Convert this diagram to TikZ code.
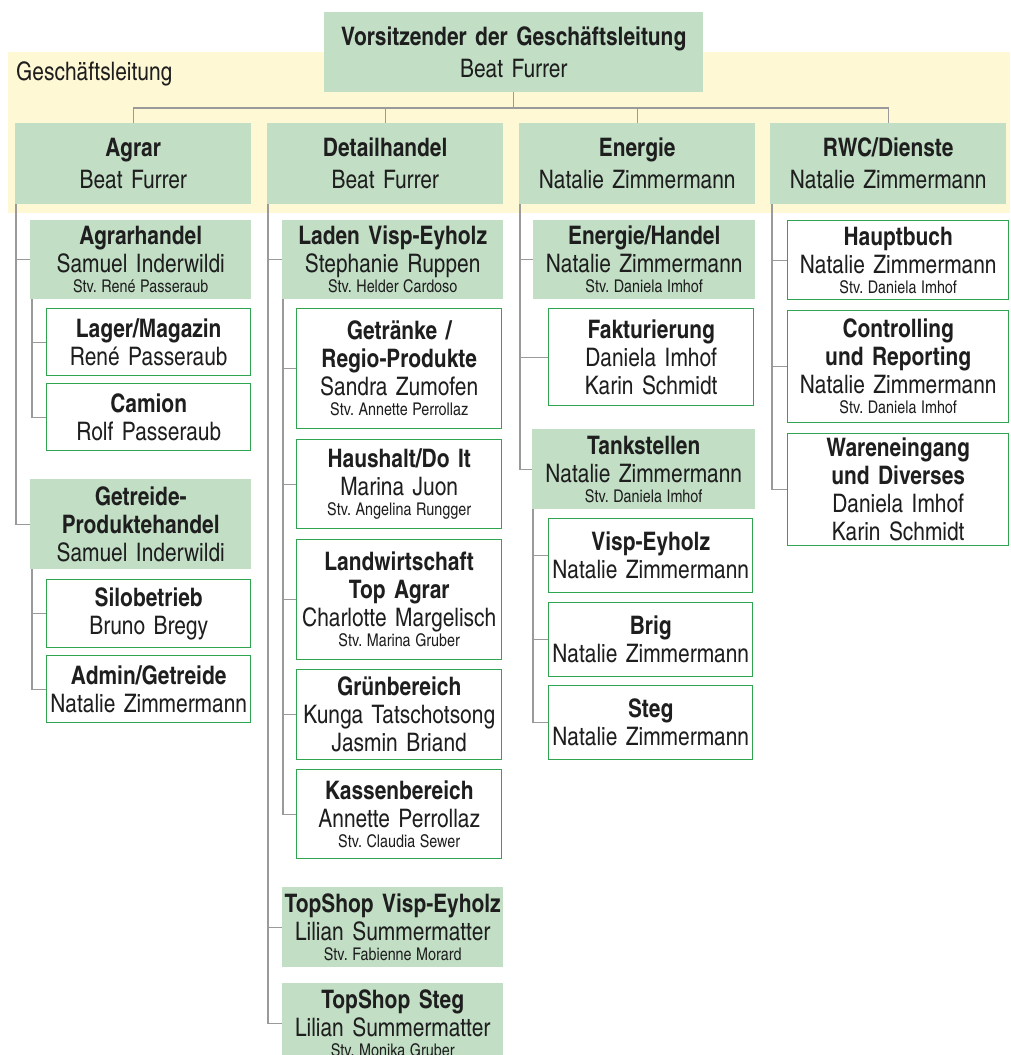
\documentclass[tikz,border=0pt]{standalone}
\usepackage{fontspec}
\setmainfont{texgyreheroscn}[Extension=.otf, UprightFont=*-regular, BoldFont=*-bold, ItalicFont=*-italic, BoldItalicFont=*-bolditalic, PunctuationSpace=0, WordSpace=0.75]
\definecolor{gfill}{HTML}{C2DFC6}
\definecolor{yband}{HTML}{FFF8D5}
\definecolor{gline}{HTML}{2FA552}
\definecolor{conn}{HTML}{9A9A9A}
\definecolor{txt}{HTML}{1E1E1E}
\newcommand\Lb[1]{{\bfseries\makebox[\linewidth]{#1}\par}}
\newcommand\Ln[1]{{\makebox[\linewidth]{#1}\par}}
\newcommand\Ls[1]{{\fontsize{17.5}{20}\selectfont\spaceskip=0.26em\makebox[\linewidth]{#1}\par}}
\newcommand\bx[7]{%
  \pgfmathsetmacro\mybw{#5-#3}\pgfmathsetmacro\mybh{#6-#4}%
  \node[#1, anchor=north west, minimum width=\mybw pt, minimum height=\mybh pt] (#2) at (#3,#4) {#7};}
\tikzset{
  base/.style={inner sep=0pt, text=txt, font=\fontsize{25.5}{28}\selectfont\frenchspacing},
  gbox/.style={base, fill=gfill, text width=196pt},
  lbox/.style={base, fill=gfill, text width=210pt, font=\fontsize{25.5}{32}\selectfont\frenchspacing},
  wbox/.style={base, fill=white, draw=gline, line width=1.4pt, text width=190pt},
  cn/.style={draw=conn, line width=1.4pt}
}
\begin{document}
\frenchspacing
\begin{tikzpicture}[x=1pt,y=-1pt]
\useasboundingbox (0,0) rectangle (1010,1055);
\fill[yband] (8,52) rectangle (1010,213);
\node[base, anchor=base west] (gl) at (16,80) {Geschäftsleitung};
% top
\bx{lbox, text width=370pt}{top}{324}{12}{703}{92}{\Lb{Vorsitzender der Geschäftsleitung}\Ln{Beat Furrer}}
% level 1
\bx{lbox}{agrar}{15}{123}{251}{204}{\Lb{Agrar}\Ln{Beat Furrer}}
\bx{lbox}{detail}{267}{123}{503}{204}{\Lb{Detailhandel}\Ln{Beat Furrer}}
\bx{lbox}{energie}{519}{123}{755}{204}{\Lb{Energie}\Ln{Natalie Zimmermann}}
\bx{lbox}{rwc}{770}{123}{1006}{204}{\Lb{RWC/Dienste}\Ln{Natalie Zimmermann}}
% Agrar column
\bx{gbox}{agrarhandel}{30}{220}{251}{299}{\Lb{Agrarhandel}\Ln{Samuel Inderwildi}\Ls{Stv. René Passeraub}}
\bx{wbox}{lager}{46}{308}{250}{375}{\Lb{Lager/Magazin}\Ln{René Passeraub}}
\bx{wbox}{camion}{46}{383}{250}{450}{\Lb{Camion}\Ln{Rolf Passeraub}}
\bx{gbox}{getreide}{30}{479}{251}{569}{\Lb{Getreide-}\Lb{Produktehandel}\Ln{Samuel Inderwildi}}
\bx{wbox}{silo}{46}{579}{250}{647}{\Lb{Silobetrieb}\Ln{Bruno Bregy}}
\bx{wbox}{admin}{46}{655}{250}{722}{\Lb{Admin/Getreide}\Ln{Natalie Zimmermann}}
% Detailhandel column
\bx{gbox}{laden}{282}{220}{503}{299}{\Lb{Laden Visp-Eyholz}\Ln{Stephanie Ruppen}\Ls{Stv. Helder Cardoso}}
\bx{wbox}{getraenke}{296}{308}{501}{428}{\Lb{Getränke /}\Lb{Regio-Produkte}\Ln{Sandra Zumofen}\Ls{Stv. Annette Perrollaz}}
\bx{wbox}{haushalt}{296}{439}{501}{528}{\Lb{Haushalt/Do It}\Ln{Marina Juon}\Ls{Stv. Angelina Rungger}}
\bx{wbox}{landw}{296}{539}{501}{659}{\Lb{Landwirtschaft}\Lb{Top Agrar}\Ln{Charlotte Margelisch}\Ls{Stv. Marina Gruber}}
\bx{wbox}{gruen}{296}{669}{501}{759}{\Lb{Grünbereich}\Ln{Kunga Tatschotsong}\Ln{Jasmin Briand}}
\bx{wbox}{kasse}{296}{769}{501}{858}{\Lb{Kassenbereich}\Ln{Annette Perrollaz}\Ls{Stv. Claudia Sewer}}
\bx{gbox}{topvisp}{282}{887}{503}{967}{\Lb{TopShop Visp-Eyholz}\Ln{Lilian Summermatter}\Ls{Stv. Fabienne Morard}}
\bx{gbox}{topsteg}{282}{983}{503}{1063}{\Lb{TopShop Steg}\Ln{Lilian Summermatter}\Ls{Stv. Monika Gruber}}
% Energie column
\bx{gbox}{ehandel}{533}{220}{755}{299}{\Lb{Energie/Handel}\Ln{Natalie Zimmermann}\Ls{Stv. Daniela Imhof}}
\bx{wbox}{faktur}{548}{308}{753}{405}{\Lb{Fakturierung}\Ln{Daniela Imhof}\Ln{Karin Schmidt}}
\bx{gbox}{tank}{532}{429}{755}{509}{\Lb{Tankstellen}\Ln{Natalie Zimmermann}\Ls{Stv. Daniela Imhof}}
\bx{wbox}{visp}{548}{518}{752}{592}{\Lb{Visp-Eyholz}\Ln{Natalie Zimmermann}}
\bx{wbox}{brig}{548}{602}{752}{676}{\Lb{Brig}\Ln{Natalie Zimmermann}}
\bx{wbox}{steg}{548}{685}{752}{759}{\Lb{Steg}\Ln{Natalie Zimmermann}}
% RWC column
\bx{wbox}{haupt}{787}{220}{1008}{299}{\Lb{Hauptbuch}\Ln{Natalie Zimmermann}\Ls{Stv. Daniela Imhof}}
\bx{wbox}{contr}{787}{310}{1008}{422}{\Lb{Controlling}\Lb{und Reporting}\Ln{Natalie Zimmermann}\Ls{Stv. Daniela Imhof}}
\bx{wbox}{waren}{787}{433}{1008}{545}{\Lb{Wareneingang}\Lb{und Diverses}\Ln{Daniela Imhof}\Ln{Karin Schmidt}}
% connectors
\coordinate (bus) at (511,108);
\draw[cn] (top.south) -- (top.south |- bus);
\draw[cn] (agrar.north) -- (agrar.north |- bus) -- (rwc.north |- bus) -- (rwc.north);
\draw[cn] (detail.north) -- (detail.north |- bus);
\draw[cn] (energie.north) -- (energie.north |- bus);
% Agrar
\coordinate (tA) at ([xshift=1pt]agrar.south west);
\draw[cn] (tA) |- (getreide.west);
\draw[cn] (tA |- agrarhandel.west) -- (agrarhandel.west);
\coordinate (tAH) at ([xshift=2pt]agrarhandel.south west);
\draw[cn] (tAH) |- (camion.west);
\draw[cn] (tAH |- lager.west) -- (lager.west);
\coordinate (tG) at ([xshift=2pt]getreide.south west);
\draw[cn] (tG) |- (admin.west);
\draw[cn] (tG |- silo.west) -- (silo.west);
% Detailhandel
\coordinate (tD) at ([xshift=1pt]detail.south west);
\draw[cn] (tD) |- (topsteg.west);
\draw[cn] (tD |- laden.west) -- (laden.west);
\draw[cn] (tD |- topvisp.west) -- (topvisp.west);
\coordinate (tL) at ([xshift=1pt]laden.south west);
\draw[cn] (tL) |- (kasse.west);
\foreach \n in {getraenke,haushalt,landw,gruen} \draw[cn] (tL |- \n.west) -- (\n.west);
% Energie
\coordinate (tE) at ([xshift=1pt]energie.south west);
\draw[cn] (tE) |- (tank.west);
\draw[cn] (tE |- ehandel.west) -- (ehandel.west);
\draw[cn] (tE |- faktur.west) -- (faktur.west);
\coordinate (tT) at ([xshift=1pt]tank.south west);
\draw[cn] (tT) |- (steg.west);
\draw[cn] (tT |- visp.west) -- (visp.west);
\draw[cn] (tT |- brig.west) -- (brig.west);
% RWC
\coordinate (tR) at ([xshift=2pt]rwc.south west);
\draw[cn] (tR) |- (waren.west);
\draw[cn] (tR |- haupt.west) -- (haupt.west);
\draw[cn] (tR |- contr.west) -- (contr.west);
\end{tikzpicture}
\end{document}
